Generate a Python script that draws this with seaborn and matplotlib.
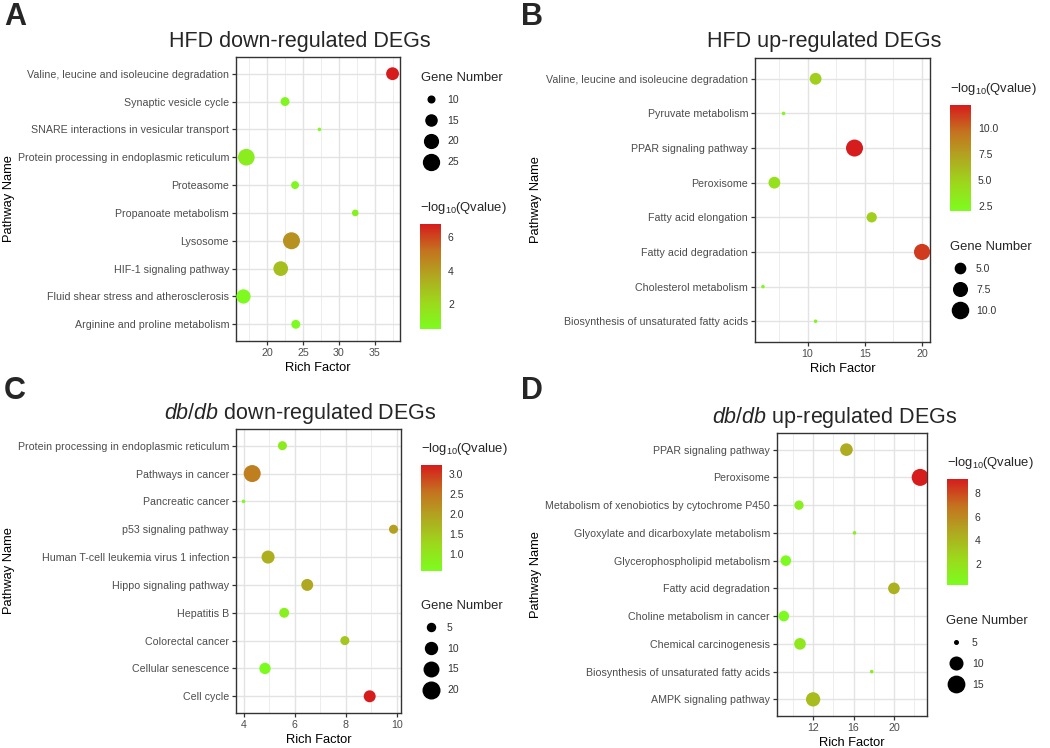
import numpy as np
import pandas as pd
import seaborn as sns
import matplotlib.pyplot as plt
from matplotlib.colors import LinearSegmentedColormap, Normalize
from matplotlib.cm import ScalarMappable
from matplotlib.lines import Line2D
from matplotlib.ticker import MultipleLocator

sns.set_theme(style="white")
plt.rcParams['font.family'] = ['Liberation Sans', 'DejaVu Sans']
plt.rcParams['mathtext.fontset'] = 'custom'
plt.rcParams['mathtext.rm'] = 'Liberation Sans'
plt.rcParams['mathtext.it'] = 'Liberation Sans:italic'

W, H = 1050, 748

# ---- data, pathways listed top to bottom as drawn ----
a_path = ['Valine, leucine and isoleucine degradation', 'Synaptic vesicle cycle',
          'SNARE interactions in vesicular transport', 'Protein processing in endoplasmic reticulum',
          'Proteasome', 'Propanoate metabolism', 'Lysosome', 'HIF-1 signaling pathway',
          'Fluid shear stress and atherosclerosis', 'Arginine and proline metabolism']
a_rich = [37.5, 22.5, 27.3, 17.1, 23.9, 32.3, 23.4, 21.9, 16.7, 24.0]
a_genes = [18, 12, 9, 27, 11, 10, 28, 22, 21, 12]
a_q = [6.8, 0.8, 0.6, 1.2, 0.7, 1.0, 4.3, 2.9, 0.6, 0.5]

b_path = ['Valine, leucine and isoleucine degradation', 'Pyruvate metabolism',
          'PPAR signaling pathway', 'Peroxisome', 'Fatty acid elongation',
          'Fatty acid degradation', 'Cholesterol metabolism',
          'Biosynthesis of unsaturated fatty acids']
b_rich = [10.7, 7.9, 14.1, 7.1, 15.6, 20.0, 6.1, 10.7]
b_genes = [6, 3, 11, 6, 5, 10, 3, 3]
b_q = [5.0, 2.3, 12.2, 4.0, 5.0, 11.3, 2.0, 2.5]

c_path = ['Protein processing in endoplasmic reticulum', 'Pathways in cancer',
          'Pancreatic cancer', 'p53 signaling pathway',
          'Human T-cell leukemia virus 1 infection', 'Hippo signaling pathway',
          'Hepatitis B', 'Colorectal cancer', 'Cellular senescence', 'Cell cycle']
c_rich = [5.52, 4.34, 4.0, 9.86, 4.96, 6.49, 5.59, 7.96, 4.84, 8.93]
c_genes = [6, 21, 3, 6, 12, 10, 7, 6, 9, 10]
c_q = [0.9, 2.4, 0.6, 2.0, 1.8, 1.9, 0.8, 1.5, 0.57, 3.23]

d_path = ['PPAR signaling pathway', 'Peroxisome',
          'Metabolism of xenobiotics by cytochrome P450',
          'Glyoxylate and dicarboxylate metabolism', 'Glycerophospholipid metabolism',
          'Fatty acid degradation', 'Choline metabolism in cancer',
          'Chemical carcinogenesis', 'Biosynthesis of unsaturated fatty acids',
          'AMPK signaling pathway']
d_rich = [15.3, 22.6, 10.6, 16.1, 9.3, 20.0, 9.1, 10.7, 17.8, 12.0]
d_genes = [10, 16, 7, 5, 8, 9, 8, 9, 5, 12]
d_q = [4.5, 9.2, 1.0, 1.2, 0.3, 4.3, 0.2, 1.5, 1.2, 3.8]

# green -> red gradient like ggplot's scale_colour_gradient
cmap = LinearSegmentedColormap.from_list(
    'gr', [(0.0, '#7CFC1E'), (0.25, '#9CD91C'), (0.5, '#B0A820'),
           (0.75, '#C4721F'), (1.0, '#D61C1C')])


def gg_area(g, lo, hi):
    # ggplot scale_size: area scaled, size range 1..6
    t = (g - lo) / (hi - lo)
    d = 0.68 * (2.845 * (1 + 5 * np.sqrt(t)) + 0.94)
    return d ** 2


def fig_rect(l, t, r, b):
    return [l / W, 1 - b / H, (r - l) / W, (b - t) / H]


def panel(fig, letter, title, paths, rich, genes, q, box, xstep, cbox, cticks, cfmt,
          ltitle, lbreaks):
    ax = fig.add_axes(fig_rect(*box))
    df = pd.DataFrame({'path': paths, 'rich': rich, 'genes': genes, 'q': q})
    lo, hi = min(genes), max(genes)
    sizes = {g: gg_area(g, lo, hi) for g in set(genes)}
    norm = Normalize(min(q), max(q))
    sns.scatterplot(data=df, x='rich', y='path', hue='q', size='genes',
                    palette=cmap, hue_norm=norm, sizes=sizes, linewidth=0,
                    legend=False, ax=ax, zorder=3)
    n = len(paths)
    ax.set_ylim(n - 1 + 0.6, -0.6)
    ax.xaxis.set_major_locator(MultipleLocator(xstep))
    ax.xaxis.set_minor_locator(MultipleLocator(xstep / 2))
    ax.set_axisbelow(True)
    ax.grid(which='major', color='#E3E3E3', lw=1.0)
    ax.grid(which='minor', axis='x', color='#EDEDED', lw=0.7)
    for s in ax.spines.values():
        s.set_color('#333333')
        s.set_linewidth(1.0)
    ax.tick_params(which='major', left=True, bottom=True, length=3, width=0.9,
                   color='#333333', labelsize=7.7, labelcolor='#4D4D4D', pad=2)
    ax.tick_params(which='minor', length=0)
    ax.set_xlabel('Rich Factor', fontsize=9.3, color='black', labelpad=3)
    ax.set_ylabel('Pathway Name', fontsize=9.3, color='black')
    l, t, r, b = box
    left_col = l < 500
    ax.yaxis.set_label_coords(((15 if left_col else 542) - l) / (r - l), 0.5)

    # title and panel letter
    fig.text((l + r) / 2 / W - 0.017, 1 - (t - 16) / H, title, fontsize=15.5,
             ha='center', va='center')
    fig.text((4 if left_col else 521) / W, 1 - (17 if t < 200 else 391) / H,
             letter, fontsize=22, fontweight='bold', ha='left', va='center')

    # colour bar
    cl, ct, cr, cb = cbox
    cax = fig.add_axes(fig_rect(cl, ct, cr, cb))
    cbar = fig.colorbar(ScalarMappable(norm=norm, cmap=cmap), cax=cax)
    cbar.outline.set_visible(False)
    cbar.set_ticks(cticks)
    cbar.set_ticklabels([cfmt.format(v) for v in cticks])
    cax.tick_params(axis='y', which='both', direction='in', length=4, width=0.8,
                    color='white', left=True, right=True, labelsize=7.5,
                    labelcolor='#333333', pad=5)
    fig.text(cl / W, 1 - (ct - 16) / H, r'$-\mathrm{log}_{10}$(Qvalue)', fontsize=9.4,
             ha='left', va='center')

    # size legend
    tx, ty = ltitle
    handles = [Line2D([], [], ls='none', marker='o', color='black',
                      markersize=np.sqrt(gg_area(v, lo, hi))) for v in lbreaks]
    labels = [('{:.1f}' if isinstance(v, float) else '{}').format(v) for v in lbreaks]
    leg = ax.legend(handles, labels, title='Gene Number', loc='upper left',
                    bbox_to_anchor=(tx / W, 1 - (ty - 4) / H), bbox_transform=fig.transFigure,
                    frameon=False, borderpad=0, borderaxespad=0, fontsize=7.5,
                    title_fontsize=9.4, labelspacing=1.04, handlelength=1.9,
                    handletextpad=0.6, alignment='left')
    for txt in leg.get_texts():
        txt.set_color('#333333')
    return ax


fig = plt.figure(figsize=(W / 100, H / 100), dpi=100)

panel(fig, 'A', 'HFD down-regulated DEGs', a_path, a_rich, a_genes, a_q,
      (236, 57, 400, 341), 5, (420, 224, 441, 329), [2, 4, 6], '{:.0f}',
      (421, 76), [10, 15, 20, 25])
panel(fig, 'B', 'HFD up-regulated DEGs', b_path, b_rich, b_genes, b_q,
      (755, 58, 930, 342), 5, (950, 105, 971, 211), [2.5, 5.0, 7.5, 10.0], '{:.1f}',
      (950, 245), [5.0, 7.5, 10.0])
panel(fig, 'C', r'$\mathit{db/db}$ down-regulated DEGs', c_path, c_rich, c_genes, c_q,
      (236, 429, 401, 713), 2, (421, 465, 442, 571), [1.0, 1.5, 2.0, 2.5, 3.0], '{:.1f}',
      (421, 604), [5, 10, 15, 20])
panel(fig, 'D', r'$\mathit{db/db}$ up-regulated DEGs', d_path, d_rich, d_genes, d_q,
      (777, 433, 927, 716), 4, (947, 479, 968, 585), [2, 4, 6, 8], '{:.0f}',
      (946, 619), [5, 10, 15])

fig.savefig('out.png', dpi=100, facecolor='white')
